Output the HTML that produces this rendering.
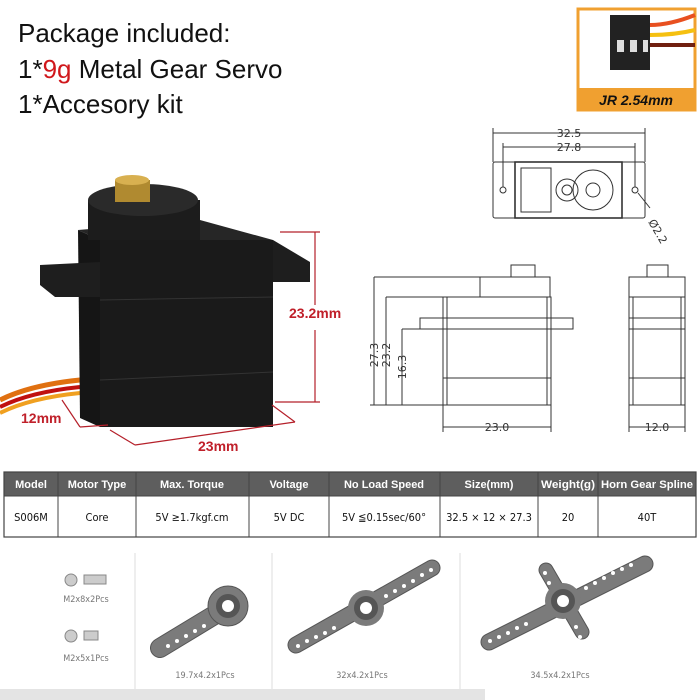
<!DOCTYPE html>
<html><head><meta charset="utf-8"><style>
body{margin:0;width:700px;height:700px;background:#fff;overflow:hidden;font-family:"Liberation Sans",sans-serif}
svg{position:absolute;left:0;top:0}
</style></head><body>
<svg width="700" height="700" viewBox="0 0 700 700" xmlns="http://www.w3.org/2000/svg">
<text x="18" y="42" font-size="26" fill="#111">Package included:</text>
<text x="18" y="78" font-size="26" fill="#111">1*<tspan fill="#d0181c">9g</tspan> Metal Gear Servo</text>
<text x="18" y="113" font-size="26" fill="#111">1*Accesory kit</text>

<rect x="578" y="9" width="117" height="101" fill="#fff" stroke="#f0a030" stroke-width="3"/>
<path d="M650 25 q20 0 45 -10" stroke="#e85020" stroke-width="4" fill="none"/>
<path d="M650 35 q25 0 45 -5" stroke="#f5c010" stroke-width="4" fill="none"/>
<path d="M650 45 q25 0 45 0" stroke="#702010" stroke-width="4" fill="none"/>
<path d="M610 15 h40 v55 h-40z" fill="#222"/>
<rect x="617" y="40" width="7" height="12" fill="#ddd"/><rect x="630" y="40" width="7" height="12" fill="#ddd"/><rect x="643" y="40" width="5" height="12" fill="#ddd"/>
<rect x="578" y="88" width="117" height="22" fill="#f0a030"/>
<text x="636" y="105" font-size="14" font-weight="bold" font-style="italic" text-anchor="middle" fill="#111">JR 2.54mm</text>

<path d="M0 400 q30 -15 80 -20" stroke="#e07010" stroke-width="5" fill="none"/>
<path d="M0 407 q30 -15 80 -20" stroke="#c01010" stroke-width="4" fill="none"/>
<path d="M0 413 q30 -15 80 -20" stroke="#f0a020" stroke-width="4" fill="none"/>
<polygon points="78,230 100,240 100,427 80,418" fill="#151515"/>
<rect x="100" y="240" width="173" height="187" fill="#1a1a1a"/>
<line x1="100" y1="300" x2="273" y2="297" stroke="#333"/>
<line x1="100" y1="380" x2="273" y2="372" stroke="#333"/>
<polygon points="40,265 100,262 100,297 55,297 40,285" fill="#1e1e1e"/>
<polygon points="273,240 310,262 310,282 273,282" fill="#1e1e1e"/>
<polygon points="78,230 200,220 273,240 100,240" fill="#262626"/>
<ellipse cx="143" cy="218" rx="55" ry="22" fill="#222"/>
<rect x="88" y="200" width="112" height="40" fill="#1c1c1c"/>
<ellipse cx="143" cy="200" rx="55" ry="16" fill="#2a2a2a"/>
<rect x="115" y="180" width="35" height="22" fill="#b08a30"/>
<ellipse cx="132" cy="180" rx="17" ry="5" fill="#d8b050"/>
<g stroke="#b5202a" stroke-width="1.2" fill="none">
<line x1="280" y1="232" x2="320" y2="232"/><line x1="315" y1="232" x2="315" y2="305"/><line x1="315" y1="330" x2="315" y2="402"/><line x1="275" y1="402" x2="320" y2="402"/>
<line x1="62" y1="400" x2="80" y2="427"/><line x1="80" y1="427" x2="108" y2="425"/>
<line x1="110" y1="430" x2="135" y2="445"/><line x1="135" y1="445" x2="295" y2="422"/><line x1="272" y1="405" x2="295" y2="422"/>
</g>
<text x="289" y="318" font-size="14" font-weight="bold" fill="#c0202a">23.2mm</text>
<text x="21" y="423" font-size="14" font-weight="bold" fill="#c0202a">12mm</text>
<text x="198" y="451" font-size="14" font-weight="bold" fill="#c0202a">23mm</text>

<g stroke="#333" stroke-width="1" fill="none">
<rect x="493" y="162" width="152" height="56" rx="2"/>
<rect x="515" y="162" width="107" height="56" stroke-width="1.6"/>
<rect x="521" y="168" width="30" height="44"/>
<circle cx="593" cy="190" r="20"/><circle cx="593" cy="190" r="7"/>
<circle cx="567" cy="190" r="11"/><circle cx="567" cy="190" r="5"/>
<circle cx="503" cy="190" r="3"/><circle cx="635" cy="190" r="3"/>
<line x1="493" y1="133" x2="645" y2="133"/><line x1="503" y1="147" x2="635" y2="147"/>
<line x1="493" y1="128" x2="493" y2="162"/><line x1="645" y1="128" x2="645" y2="162"/>
<line x1="503" y1="143" x2="503" y2="187"/><line x1="635" y1="143" x2="635" y2="187"/>
<line x1="638" y1="193" x2="650" y2="208"/>
<rect x="443" y="297" width="108" height="108"/>
<rect x="420" y="318" width="153" height="11"/>
<rect x="480" y="277" width="70" height="20"/>
<rect x="511" y="265" width="24" height="12"/>
<line x1="447" y1="297" x2="447" y2="405"/><line x1="547" y1="297" x2="547" y2="405"/>
<line x1="443" y1="378" x2="551" y2="378"/>
<line x1="374" y1="277" x2="480" y2="277"/><line x1="386" y1="297" x2="443" y2="297"/><line x1="402" y1="329" x2="420" y2="329"/>
<line x1="370" y1="405" x2="443" y2="405"/>
<line x1="374" y1="277" x2="374" y2="405"/><line x1="386" y1="297" x2="386" y2="405"/><line x1="402" y1="329" x2="402" y2="405"/>
<line x1="443" y1="405" x2="443" y2="432"/><line x1="551" y1="405" x2="551" y2="432"/><line x1="443" y1="427" x2="551" y2="427"/>
<rect x="629" y="277" width="56" height="128"/>
<rect x="647" y="265" width="21" height="12"/>
<line x1="629" y1="297" x2="685" y2="297"/><line x1="629" y1="318" x2="685" y2="318"/><line x1="629" y1="329" x2="685" y2="329"/><line x1="629" y1="378" x2="685" y2="378"/>
<line x1="633" y1="297" x2="633" y2="405"/><line x1="681" y1="297" x2="681" y2="405"/>
<line x1="629" y1="405" x2="629" y2="432"/><line x1="685" y1="405" x2="685" y2="432"/><line x1="629" y1="427" x2="685" y2="427"/>
</g>
<g font-size="11" fill="#333" font-family="DejaVu Sans,sans-serif">
<text x="569" y="137" text-anchor="middle">32.5</text>
<text x="569" y="151" text-anchor="middle">27.8</text>
<text x="648" y="222" transform="rotate(60 648 222)">Ø2.2</text>
<text x="497" y="431" text-anchor="middle">23.0</text>
<text x="657" y="431" text-anchor="middle">12.0</text>
<text transform="translate(378 355) rotate(-90)" text-anchor="middle">27.3</text>
<text transform="translate(390 355) rotate(-90)" text-anchor="middle">23.2</text>
<text transform="translate(406 367) rotate(-90)" text-anchor="middle">16.3</text>
</g>

<rect x="4" y="472" width="692" height="24" fill="#5e5e5e"/>
<rect x="4" y="472" width="692" height="65" fill="none" stroke="#444" stroke-width="1.2"/>
<line x1="4" y1="496" x2="696" y2="496" stroke="#444"/>
<g stroke="#444"><line x1="58" y1="472" x2="58" y2="537"/><line x1="136" y1="472" x2="136" y2="537"/><line x1="249" y1="472" x2="249" y2="537"/><line x1="329" y1="472" x2="329" y2="537"/><line x1="440" y1="472" x2="440" y2="537"/><line x1="538" y1="472" x2="538" y2="537"/><line x1="598" y1="472" x2="598" y2="537"/></g>
<g font-size="11" font-weight="bold" text-anchor="middle" fill="#fff" font-family="Liberation Sans Narrow,Liberation Sans,sans-serif">
<text x="31" y="488">Model</text><text x="97" y="488">Motor Type</text><text x="192" y="488">Max. Torque</text><text x="289" y="488">Voltage</text><text x="384" y="488">No Load Speed</text><text x="489" y="488">Size(mm)</text><text x="568" y="488" textLength="54" lengthAdjust="spacingAndGlyphs">Weight(g)</text><text x="647" y="488" textLength="92" lengthAdjust="spacingAndGlyphs">Horn Gear Spline</text>
</g>
<g font-size="11" text-anchor="middle" fill="#111" font-family="DejaVu Sans Condensed,DejaVu Sans,sans-serif">
<text x="31" y="521">S006M</text><text x="97" y="521">Core</text><text x="192" y="521">5V ≥1.7kgf.cm</text><text x="289" y="521">5V DC</text><text x="384" y="521">5V ≦0.15sec/60°</text><text x="489" y="521">32.5 × 12 × 27.3</text><text x="568" y="521">20</text><text x="647" y="521">40T</text>
</g>

<g stroke="#ddd"><line x1="135" y1="553" x2="135" y2="690"/><line x1="272" y1="553" x2="272" y2="690"/><line x1="460" y1="553" x2="460" y2="690"/></g>
<rect x="0" y="689" width="485" height="11" fill="#e4e4e4"/>
<circle cx="71" cy="580" r="6" fill="#ccc" stroke="#888"/><rect x="84" y="575" width="22" height="9" fill="#ccc" stroke="#888"/>
<circle cx="71" cy="636" r="6" fill="#ccc" stroke="#888"/><rect x="84" y="631" width="14" height="9" fill="#ccc" stroke="#888"/>
<g font-size="9" fill="#777" text-anchor="middle" font-family="DejaVu Sans Condensed,sans-serif">
<text x="86" y="602">M2x8x2Pcs</text><text x="86" y="661">M2x5x1Pcs</text>
<text x="205" y="678">19.7x4.2x1Pcs</text><text x="362" y="678">32x4.2x1Pcs</text><text x="560" y="678">34.5x4.2x1Pcs</text>
</g>
<g stroke="#555" stroke-linecap="round" fill="none">
<line x1="160" y1="648" x2="226" y2="608" stroke-width="20"/>
<line x1="296" y1="645" x2="432" y2="568" stroke-width="17"/>
<line x1="489" y1="642" x2="645" y2="564" stroke-width="17"/>
<line x1="546" y1="570" x2="582" y2="632" stroke-width="15"/>
</g>
<g stroke="#7b7b7b" stroke-linecap="round" fill="none">
<line x1="160" y1="648" x2="226" y2="608" stroke-width="18"/>
<line x1="296" y1="645" x2="432" y2="568" stroke-width="15"/>
<line x1="489" y1="642" x2="645" y2="564" stroke-width="15"/>
<line x1="546" y1="570" x2="582" y2="632" stroke-width="13"/>
</g>
<circle cx="228" cy="606" r="20" fill="#7b7b7b" stroke="#555"/>
<circle cx="366" cy="608" r="18" fill="#7b7b7b"/>
<circle cx="563" cy="601" r="18" fill="#7b7b7b"/>
<circle cx="228" cy="606" r="12" fill="#555"/><circle cx="228" cy="606" r="6" fill="#fff"/>
<circle cx="366" cy="608" r="12" fill="#555"/><circle cx="366" cy="608" r="6" fill="#fff"/>
<circle cx="563" cy="601" r="12" fill="#555"/><circle cx="563" cy="601" r="6" fill="#fff"/>
<g fill="#fff">
<circle cx="168" cy="646" r="2"/><circle cx="177" cy="641" r="2"/><circle cx="186" cy="636" r="2"/><circle cx="195" cy="631" r="2"/><circle cx="204" cy="626" r="2"/>
<circle cx="298" cy="646" r="2"/><circle cx="307" cy="641" r="2"/><circle cx="316" cy="637" r="2"/><circle cx="325" cy="633" r="2"/><circle cx="334" cy="628" r="2"/><circle cx="386" cy="596" r="2"/><circle cx="395" cy="591" r="2"/><circle cx="404" cy="586" r="2"/><circle cx="413" cy="581" r="2"/><circle cx="422" cy="575" r="2"/><circle cx="431" cy="570" r="2"/>
<circle cx="490" cy="641" r="2"/><circle cx="499" cy="637" r="2"/><circle cx="508" cy="633" r="2"/><circle cx="517" cy="628" r="2"/><circle cx="526" cy="624" r="2"/><circle cx="586" cy="588" r="2"/><circle cx="595" cy="583" r="2"/><circle cx="604" cy="578" r="2"/><circle cx="613" cy="573" r="2"/><circle cx="622" cy="569" r="2"/><circle cx="631" cy="565" r="2"/>
<circle cx="545" cy="573" r="2"/><circle cx="549" cy="583" r="2"/><circle cx="576" cy="627" r="2"/><circle cx="580" cy="637" r="2"/>
</g>
</svg>
</body></html>
